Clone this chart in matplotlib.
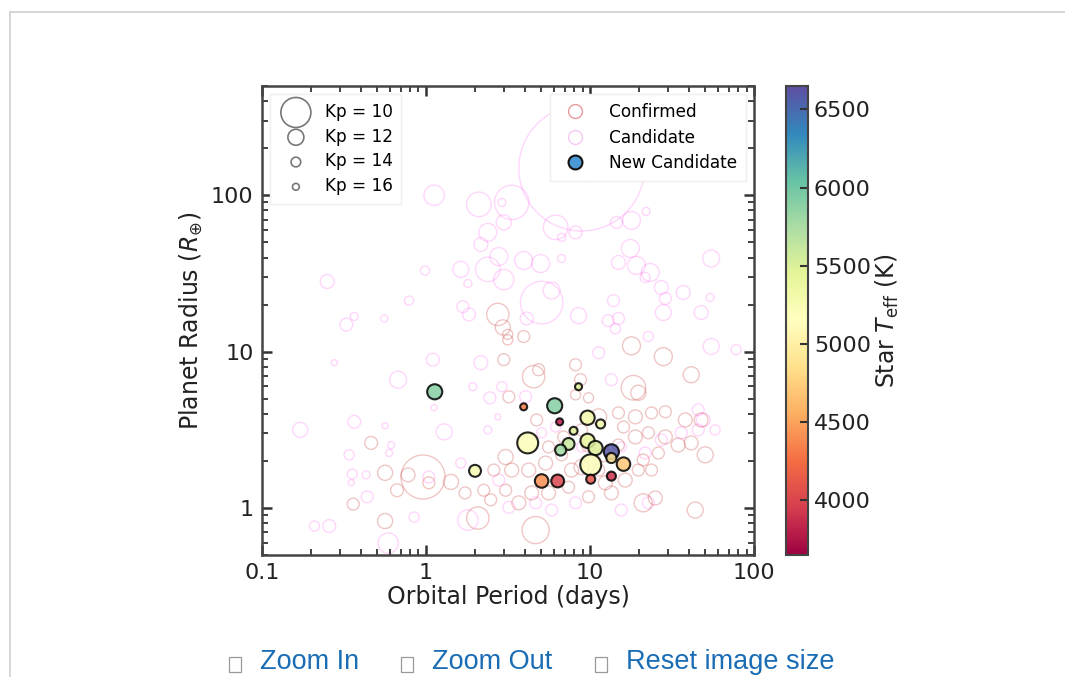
import numpy as np
import matplotlib
matplotlib.use("Agg")
import matplotlib.pyplot as plt
from matplotlib.lines import Line2D
from matplotlib.patches import Rectangle

# confirmed planets: period (d), radius (Re), Kepler magnitude
conf_period = [0.463, 0.959, 0.563, 0.777, 0.666, 1.04, 1.42, 1.73, 0.360, 0.563,
               2.07, 2.48, 2.25, 2.59, 2.98, 3.15, 2.74, 2.94, 3.15, 3.94,
               4.53, 4.86, 8.16, 8.75, 17.9, 28.0, 41.4, 18.4, 19.7, 3.20,
               8.16, 9.79, 4.73, 11.3, 14.9, 18.9, 23.7, 28.8, 38.1, 47.6,
               6.90, 8.88, 18.9, 22.7, 28.8, 34.5, 41.4, 50.4, 3.06, 3.33,
               4.23, 5.36, 7.72, 12.4, 16.4, 19.7, 23.7, 4.41, 5.59, 7.40,
               9.79, 13.5, 21.1, 25.0, 43.8, 4.66, 3.06, 3.68, 8.88, 11.3,
               9.79, 14.9, 12.1, 6.71, 5.59, 16.0, 26.1, 21.1]
conf_radius = [2.61, 1.58, 1.68, 1.63, 1.30, 1.45, 1.47, 1.25, 1.06, 0.826,
               0.863, 1.13, 1.30, 1.75, 8.89, 11.9, 17.3, 14.3, 12.9, 12.5,
               6.92, 7.67, 8.25, 6.62, 10.9, 9.29, 7.12, 5.88, 5.46, 5.15,
               5.30, 5.07, 3.66, 3.83, 4.06, 3.83, 4.06, 4.13, 3.66, 3.66,
               2.85, 3.16, 2.85, 3.03, 2.85, 2.53, 2.61, 2.19, 2.12, 1.75,
               1.75, 1.94, 1.75, 1.45, 1.51, 1.75, 1.75, 1.25, 1.25, 1.36,
               1.18, 1.25, 1.08, 1.16, 0.971, 0.723, 1.30, 1.08, 1.83, 1.75,
               2.53, 2.53, 2.19, 2.19, 2.46, 3.30, 2.25, 2.03]
conf_kp = [12.8, 8.9, 12.2, 12.5, 12.8, 13.1, 12.2, 13.1, 13.1, 12.2,
           10.9, 13.1, 13.1, 13.1, 13.1, 13.8, 10.9, 12.2, 13.8, 13.1,
           10.9, 13.1, 13.1, 13.1, 11.6, 11.6, 12.0, 10.6, 12.2, 13.1,
           13.8, 13.8, 13.1, 12.0, 13.1, 12.5, 13.1, 13.1, 12.5, 12.5,
           13.1, 13.1, 12.5, 13.1, 12.5, 12.5, 12.5, 12.0, 12.2, 12.5,
           12.5, 12.5, 12.5, 12.5, 12.5, 13.1, 13.1, 12.5, 12.5, 13.1,
           13.1, 12.5, 11.6, 12.5, 12.0, 10.3, 13.1, 12.5, 12.2, 13.1,
           12.5, 13.1, 12.5, 13.1, 13.1, 13.1, 13.1, 13.1]

# candidates
cand_period = [0.171, 0.365, 0.276, 0.676, 1.10, 2.16, 1.93, 2.45, 2.74, 1.29,
               0.563, 0.613, 0.596, 0.340, 0.355, 0.432, 0.350, 0.438, 1.04, 0.846,
               0.209, 0.257, 0.588, 1.80, 1.63, 2.38, 1.12, 1.12, 2.10, 2.90,
               2.38, 2.16, 2.78, 2.38, 1.63, 1.80, 0.986, 0.250, 0.788, 0.556,
               0.365, 0.327, 1.68, 1.83, 2.98, 8.88, 3.33, 6.17, 8.16, 6.71,
               14.5, 17.9, 22.0, 10.1, 11.1, 2.98, 3.94, 5.00, 6.71, 5.07,
               5.83, 4.11, 8.51, 14.9, 17.6, 19.2, 23.3, 21.7, 27.2, 28.8,
               28.0, 37.0, 47.6, 54.0, 54.8, 13.9, 12.9, 14.9, 14.3, 4.05,
               5.07, 6.17, 8.88, 15.5, 21.7, 27.2, 36.0, 45.7, 49.0, 57.9,
               45.7, 54.8, 77.7, 22.7, 11.3, 13.5, 3.20, 4.66, 8.16, 15.5,
               22.7, 2.78, 5.83, 2.90]
cand_radius = [3.16, 3.56, 8.50, 6.62, 8.89, 8.50, 5.97, 5.07, 3.83, 3.07,
               3.36, 2.53, 2.25, 2.19, 1.65, 1.63, 1.45, 1.18, 1.58, 0.875,
               0.767, 0.767, 0.597, 0.838, 1.94, 3.16, 4.38, 100, 87.5, 90,
               57.9, 48.5, 40.6, 33.6, 33.6, 27.3, 33.0, 28.1, 21.2, 16.3,
               16.8, 14.9, 19.4, 17.3, 28.9, 149, 90, 62.4, 57.9, 53.8,
               67.1, 69.1, 78.9, 130, 130, 67.1, 38.3, 36.6, 39.4, 20.6,
               24.6, 16.3, 17.0, 37.2, 45.7, 35.6, 32.1, 29.8, 25.7, 21.9,
               17.8, 23.9, 17.8, 22.2, 39.4, 21.2, 15.8, 16.3, 14.0, 5.15,
               3.03, 3.30, 2.46, 2.46, 2.25, 2.73, 3.03, 3.16, 3.66, 3.16,
               4.25, 10.8, 10.3, 12.5, 9.85, 6.62, 1.01, 1.08, 1.08, 0.971,
               1.08, 1.51, 0.971, 5.97]
cand_kp = [12.2, 12.8, 17.0, 11.8, 12.8, 12.5, 15.0, 13.1, 17.0, 12.0,
           17.0, 15.8, 15.8, 13.8, 13.8, 15.0, 17.0, 13.1, 13.1, 13.8,
           13.8, 12.8, 11.2, 11.2, 13.8, 15.0, 17.0, 11.2, 10.6, 15.0,
           11.6, 12.5, 11.6, 10.6, 12.0, 15.0, 14.3, 12.5, 14.3, 15.8,
           15.0, 12.8, 13.1, 12.8, 11.2, 6.1, 9.6, 10.6, 12.8, 15.0,
           13.1, 11.6, 15.0, 15.0, 17.0, 12.2, 11.6, 11.6, 15.0, 9.0,
           11.8, 12.8, 12.0, 12.5, 11.6, 11.6, 11.6, 13.8, 12.5, 13.1,
           12.0, 12.5, 12.5, 15.0, 11.8, 13.1, 13.1, 13.1, 13.8, 13.1,
           13.8, 13.8, 13.8, 13.8, 13.1, 13.1, 13.1, 13.1, 12.5, 13.8,
           13.1, 12.0, 13.8, 13.8, 13.1, 13.1, 13.1, 13.1, 13.1, 13.1,
           13.1, 13.1, 13.1, 13.8]

# new candidates
new_period = [1.13, 3.94, 6.09, 6.53, 9.66, 11.6, 7.94, 8.51, 4.17, 7.40, 6.62,
              9.66, 10.8, 13.5, 10.1, 13.5, 16.0, 1.99, 5.07, 6.35, 10.1, 13.5]
new_radius = [5.54, 4.44, 4.51, 3.56, 3.78, 3.45, 3.12, 5.97, 2.61, 2.57, 2.35,
              2.69, 2.42, 2.29, 1.89, 2.09, 1.91, 1.73, 1.49, 1.49, 1.53, 1.60]
new_kp = [12.2, 15.8, 12.2, 15.8, 12.4, 14.3, 15.0, 15.8, 11.1, 13.1, 13.4,
          12.4, 12.4, 12.2, 11.1, 13.8, 12.6, 13.1, 12.6, 12.8, 14.3, 14.3]
new_teff = [5900, 4300, 5900, 3800, 5300, 5300, 5500, 5500, 5200, 5600, 5800,
            5400, 5500, 6600, 5200, 4900, 4700, 5250, 4400, 4000, 4100, 3900]

legend_kp = [10, 12, 14, 16]


def kp_size(kp):
    d_px = 4.5 + 25.5 * 0.45 ** ((np.asarray(kp, float) - 10) / 2)
    return (d_px * 0.72) ** 2


fig = plt.figure(figsize=(10.65, 6.77), dpi=100)
ax = fig.add_axes([0.246, 0.180, 0.462, 0.693])

ax.scatter(cand_period, cand_radius, s=kp_size(cand_kp), facecolors="none",
           edgecolors="#ff33ee", alpha=0.2, linewidths=1.0)
ax.scatter(conf_period, conf_radius, s=kp_size(conf_kp), facecolors="none",
           edgecolors="#d05a55", alpha=0.34, linewidths=1.0)
sc = ax.scatter(new_period, new_radius, s=kp_size(new_kp), c=new_teff,
                cmap="Spectral", vmin=3650, vmax=6650, edgecolors="black",
                linewidths=1.5, alpha=0.85, zorder=5)

ax.set_xscale("log")
ax.set_yscale("log")
ax.set_xlim(0.1, 100)
ax.set_ylim(0.5, 500)
ax.set_xticks([0.1, 1, 10, 100])
ax.set_xticklabels(["0.1", "1", "10", "100"])
ax.set_yticks([1, 10, 100])
ax.set_yticklabels(["1", "10", "100"])
ax.tick_params(which="both", direction="in", top=True, right=True,
               colors="#333333", labelcolor="#222222", labelsize=16)
ax.tick_params(which="major", length=7, width=1.8, pad=6)
ax.tick_params(which="minor", length=4, width=1.3)
for sp in ax.spines.values():
    sp.set_linewidth(1.8)
    sp.set_color("#444444")
ax.set_xlabel("Orbital Period (days)", fontsize=17, color="#222222", labelpad=1)
ax.set_ylabel(r"Planet Radius ($R_{\oplus}$)", fontsize=17, color="#222222",
              labelpad=4)

# Kp size legend
kp_handles = [ax.scatter([], [], s=kp_size(k), facecolors="none",
                         edgecolors="#777777", linewidths=1.2) for k in legend_kp]
leg1 = ax.legend(kp_handles, ["Kp = %d" % k for k in legend_kp], loc="upper left",
                 fontsize=12.2, labelspacing=0.4, borderpad=0.5, handletextpad=0.7,
                 frameon=True, edgecolor="#eeeeee", framealpha=1, fancybox=False,
                 scatterpoints=1)
ax.add_artist(leg1)

type_handles = [
    Line2D([], [], marker="o", ls="none", ms=10, mfc="none", mec="#e89a9a", mew=1.0),
    Line2D([], [], marker="o", ls="none", ms=10, mfc="none", mec="#f8c8f4", mew=1.0),
    Line2D([], [], marker="o", ls="none", ms=10, mfc="#4a98d4", mec="#111111", mew=1.5),
]
ax.legend(type_handles, ["Confirmed", "Candidate", "New Candidate"], loc="upper right",
          fontsize=12.2, labelspacing=0.45, borderpad=0.5, handletextpad=1.0,
          frameon=True, edgecolor="#eeeeee", framealpha=1, fancybox=False)

cax = fig.add_axes([0.738, 0.180, 0.021, 0.693])
cb = fig.colorbar(sc, cax=cax)
cb.solids.set_alpha(1)
cb.set_ticks([4000, 4500, 5000, 5500, 6000, 6500])
cb.ax.tick_params(direction="in", length=6, width=1.5, colors="#333333",
                  labelcolor="#222222", labelsize=16, pad=4)
cb.outline.set_linewidth(1.5)
cb.outline.set_edgecolor("#444444")
cb.set_label(r"Star $T_{\rm eff}$ (K)", fontsize=17, color="#222222", labelpad=2)

# page frame and links
fig.add_artist(Line2D([10 / 1065, 1], [1 - 12 / 677, 1 - 12 / 677],
                      color="#d0d0d0", lw=1.2))
fig.add_artist(Line2D([10 / 1065, 10 / 1065], [0, 1 - 12 / 677],
                      color="#d0d0d0", lw=1.2))
links = [(229, "Zoom In"), (401, "Zoom Out"), (595, "Reset image size")]
for xp, txt in links:
    fig.add_artist(Rectangle((xp / 1065, 1 - 672 / 677), 12 / 1065, 15 / 677,
                             transform=fig.transFigure, fill=False,
                             edgecolor="#999999", lw=0.9))
    fig.text((xp + 31) / 1065, 1 - 662 / 677, txt, fontsize=19.5, color="#1a6db4",
             va="center", ha="left", family="Liberation Sans")

fig.savefig("out.png", dpi=100)
